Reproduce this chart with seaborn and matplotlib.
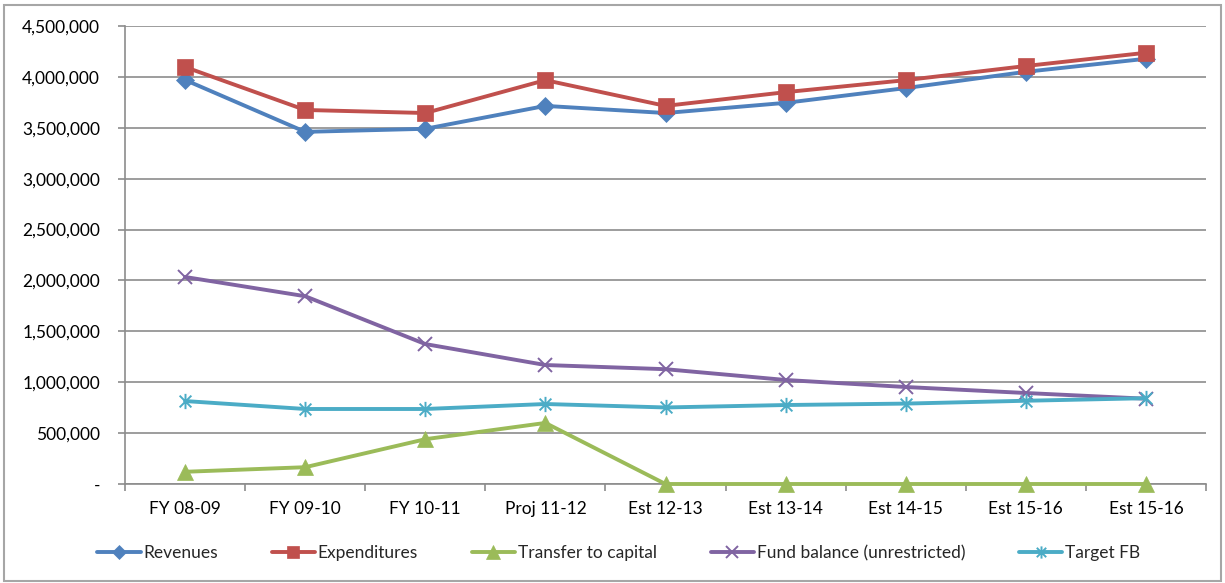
import numpy as np
import matplotlib
matplotlib.use("Agg")
import matplotlib.pyplot as plt
from matplotlib.path import Path
from matplotlib.patches import Rectangle
from matplotlib.ticker import FixedLocator
import seaborn as sns

# ---- data ----
periods = ["FY 08-09", "FY 09-10", "FY 10-11", "Proj 11-12", "Est 12-13",
           "Est 13-14", "Est 14-15", "Est 15-16", "Est 15-16"]
revenues = [3970000, 3460000, 3490000, 3715000, 3645000, 3745000, 3890000, 4050000, 4178000]
expenditures = [4097000, 3675000, 3645000, 3968000, 3715000, 3850000, 3968000, 4107000, 4237000]
transfer_to_capital = [120000, 165000, 440000, 600000, 0, 0, 0, 0, 0]
fund_balance = [2034000, 1845000, 1375000, 1169000, 1128000, 1022000, 953000, 894000, 838000]
target_fb = [815000, 737000, 737000, 786000, 752000, 776000, 790000, 818000, 843000]
y_ticks = [0, 500000, 1000000, 1500000, 2000000, 2500000, 3000000, 3500000, 4000000, 4500000]

series_names = ["Revenues", "Expenditures", "Transfer to capital",
                "Fund balance (unrestricted)", "Target FB"]
series_values = [revenues, expenditures, transfer_to_capital, fund_balance, target_fb]
colors = ["#4F81BD", "#C0504D", "#9BBB59", "#8064A2", "#4BACC6"]

# star marker: an x crossed by a vertical bar
star = Path([(-1, -1), (1, 1), (-1, 1), (1, -1), (0, -1.3), (0, 1.3)],
            [Path.MOVETO, Path.LINETO, Path.MOVETO, Path.LINETO, Path.MOVETO, Path.LINETO])
markers = ["D", "s", "^", "x", star]
msizes = [9.5, 11, 12, 10.5, 11]
medge = [0.5, 0.5, 0.5, 1.4, 1.4]

sns.set_theme(style="white")
plt.rcParams["font.family"] = ["Lato", "DejaVu Sans"]

fig = plt.figure(figsize=(12.25, 5.83), dpi=100)
ax = fig.add_axes([125 / 1225, 99 / 583, (1206 - 125) / 1225, (484 - 26) / 583])

n = len(periods)
positions = list(range(n))
grid_c = "#8C8C8C"
for name, vals, col, mk, ms, me in zip(series_names, series_values, colors,
                                       markers, msizes, medge):
    sns.lineplot(x=positions, y=vals, ax=ax, color=col, linewidth=2.8,
                 marker=mk, markersize=ms, markeredgecolor=col, markerfacecolor=col,
                 markeredgewidth=me, label=name, legend=False, zorder=3)
for ln in ax.lines:
    ln.set_clip_on(False)

ax.set_xlim(-0.5, n - 0.5)
ax.set_ylim(0, 4500000)
ax.set_xticks(positions)
ax.set_xticklabels(periods)
ax.set_yticks(y_ticks)
ax.set_yticklabels(["-" if v == 0 else f"{v:,.0f}" for v in y_ticks])

for s in ["top", "right"]:
    ax.spines[s].set_visible(False)
for s in ["left", "bottom"]:
    ax.spines[s].set_color(grid_c)
    ax.spines[s].set_linewidth(1.2)

ax.tick_params(axis="x", which="major", length=0, pad=12, labelsize=12.5, labelcolor="#000000")
ax.tick_params(axis="y", which="major", length=5, width=1.2, color=grid_c, direction="out",
               left=True, pad=13, labelsize=12.5, labelcolor="#000000")

# short tick marks below the x axis at the category boundaries
ax.xaxis.set_minor_locator(FixedLocator(np.arange(-0.5, n, 1.0)))
ax.tick_params(axis="x", which="minor", length=5, width=1.2, color=grid_c,
               direction="out", bottom=True)

ax.yaxis.grid(True, which="major", color=grid_c, linewidth=1.2)
ax.set_axisbelow(True)

handles, labels = ax.get_legend_handles_labels()
fig.legend(handles, labels, loc="center", bbox_to_anchor=(0.505, 0.0515), ncol=5,
           frameon=False, fontsize=12.5, handlelength=2.5, handletextpad=0.15,
           columnspacing=3.1, markerscale=0.8)

fig.add_artist(Rectangle((4 / 1225, 2 / 583), 1217 / 1225, 576 / 583,
                         transform=fig.transFigure, fill=False,
                         edgecolor="#A6A6A6", linewidth=1.5))

fig.savefig("out.png", dpi=100)
